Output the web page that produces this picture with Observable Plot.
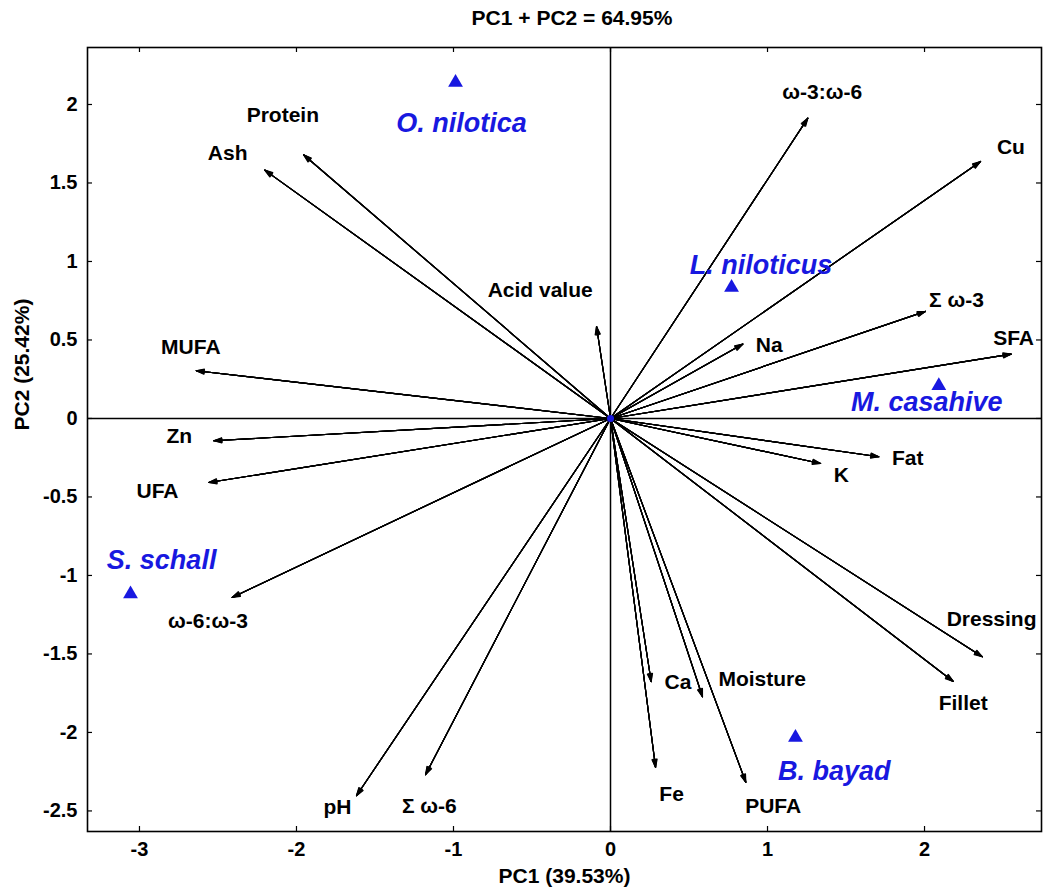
<!DOCTYPE html>
<html>
<head>
<meta charset="utf-8">
<script src="https://cdn.jsdelivr.net/npm/d3@7"></script>
<script src="https://cdn.jsdelivr.net/npm/@observablehq/plot@0.6"></script>
<style>
body{margin:0;background:#fff;font-family:Arial,"Liberation Sans",sans-serif}
#title{height:36px;box-sizing:border-box;padding-top:8px;padding-left:101px;text-align:center;font-weight:bold;font-size:21px;line-height:20px;color:#000}
</style>
</head>
<body>
<div id="title">PC1 + PC2 = 64.95%</div>
<div id="chart"></div>
<script>
// Loading vectors (arrow tips)
const variables = ["Protein","Ash","MUFA","Zn","UFA","ω-6:ω-3","pH","Σ ω-6","Acid value","ω-3:ω-6","Cu","Σ ω-3","Na","SFA","Fat","K","Dressing","Fillet","Ca","Moisture","Fe","PUFA"];
const loadPC1 = [-1.955,-2.202,-2.639,-2.527,-2.559,-2.410,-1.618,-1.178,-0.089,1.257,2.357,2.006,0.843,2.552,1.709,1.338,2.368,2.183,0.259,0.586,0.287,0.862];
const loadPC2 = [1.680,1.582,0.304,-0.142,-0.408,-1.140,-2.403,-2.269,0.586,1.913,1.637,0.682,0.474,0.410,-0.244,-0.287,-1.518,-1.675,-1.677,-1.773,-2.223,-2.318];
// Label anchor points for the variables (data units)
const varLabelX = [-2.087,-2.438,-2.673,-2.746,-2.885,-2.564,-1.739,-1.154,-0.448,1.348,2.550,2.203,1.011,2.567,1.893,1.470,2.427,2.246,0.430,0.966,0.389,1.036];
const varLabelY = [1.933,1.692,0.455,-0.115,-0.466,-1.294,-2.477,-2.470,0.818,2.080,1.726,0.750,0.468,0.511,-0.252,-0.363,-1.278,-1.814,-1.683,-1.664,-2.397,-2.469];

// Species scores
const species = ["O. nilotica","L. niloticus","M. casahive","S. schall","B. bayad"];
const scorePC1 = [-0.987,0.771,2.091,-3.057,1.178];
const scorePC2 = [2.140,0.834,0.208,-1.118,-2.032];
const speciesLabelX = [-0.949,0.959,2.014,-2.859,1.425];
const speciesLabelY = [1.880,0.978,0.102,-0.901,-2.249];

// Axes
const xTicks = [-3,-2,-1,0,1,2];
const yTicks = [-2.5,-2,-1.5,-1,-0.5,0,0.5,1,1.5,2];
const xDomain = [-3.331, 2.745];
const yDomain = [-2.631, 2.363];
const xLabel = "PC1 (39.53%)";
const yLabel = "PC2 (25.42%)";

const vars = variables.map((name, i) => ({name, x: loadPC1[i], y: loadPC2[i], lx: varLabelX[i], ly: varLabelY[i]}));
const sp = species.map((name, i) => ({name, x: scorePC1[i], y: scorePC2[i], lx: speciesLabelX[i], ly: speciesLabelY[i]}));

const blue = "#1818e0";
const tickLenX = 5 / 954 * (xDomain[1] - xDomain[0]);
const tickLenY = 5 / 784 * (yDomain[1] - yDomain[0]);

// Filled-looking arrowheads: the same arrows drawn with narrowing head angles
const headAngles = [36, 28, 20, 12, 5];
const arrowMarks = headAngles.map(a =>
  Plot.arrow(vars, {x1: () => 0, y1: () => 0, x2: "x", y2: "y", stroke: "#000",
    strokeWidth: 1.15, headLength: 11, headAngle: a}));

const chart = Plot.plot({
  width: 1043,
  height: 858,
  marginTop: 11,
  marginBottom: 63,
  marginLeft: 87,
  marginRight: 2,
  style: {fontFamily: 'Arial, "Liberation Sans", sans-serif', color: "#000", background: "#fff"},
  x: {domain: xDomain, axis: null},
  y: {domain: yDomain, axis: null},
  marks: [
    Plot.ruleX([0], {stroke: "#000", strokeWidth: 1.5}),
    Plot.ruleY([0], {stroke: "#000", strokeWidth: 1.5}),
    // inward ticks on all four sides
    Plot.ruleX(xTicks, {x: d => d, y1: yDomain[0], y2: yDomain[0] + tickLenY, stroke: "#000", strokeWidth: 1.2}),
    Plot.ruleX(xTicks, {x: d => d, y1: yDomain[1], y2: yDomain[1] - tickLenY, stroke: "#000", strokeWidth: 1.2}),
    Plot.ruleY(yTicks, {y: d => d, x1: xDomain[0], x2: xDomain[0] + tickLenX, stroke: "#000", strokeWidth: 1.2}),
    Plot.ruleY(yTicks, {y: d => d, x1: xDomain[1], x2: xDomain[1] - tickLenX, stroke: "#000", strokeWidth: 1.2}),
    Plot.axisX(xTicks, {anchor: "bottom", tickSize: 0, tickPadding: 10, tickFormat: d => String(d), fontSize: 20, fontWeight: "bold", label: null}),
    Plot.axisY(yTicks, {anchor: "left", tickSize: 0, tickPadding: 10, tickFormat: d => String(d), fontSize: 20, fontWeight: "bold", label: null}),
    Plot.text([xLabel], {frameAnchor: "bottom", dy: 51, text: d => d, fontSize: 21, fontWeight: "bold", fill: "#000"}),
    Plot.text([yLabel], {frameAnchor: "left", dx: -65, dy: -9, rotate: -90, text: d => d, fontSize: 21, fontWeight: "bold", fill: "#000"}),
    Plot.frame({stroke: "#000", strokeWidth: 1.6}),
    ...arrowMarks,
    Plot.dot([0], {x: () => 0, y: () => 0, r: 3.5, fill: blue}),
    Plot.dot(sp, {x: "x", y: "y", symbol: "triangle", r: 5.5, fill: blue, stroke: "none"}),
    Plot.text(vars, {x: "lx", y: "ly", text: "name", fontSize: 21, fontWeight: "bold", fill: "#000"}),
    Plot.text(sp, {x: "lx", y: "ly", text: "name", fontSize: 27, fontWeight: "bold", fontStyle: "italic", fill: blue})
  ]
});
document.getElementById("chart").appendChild(chart);
</script>
</body>
</html>
